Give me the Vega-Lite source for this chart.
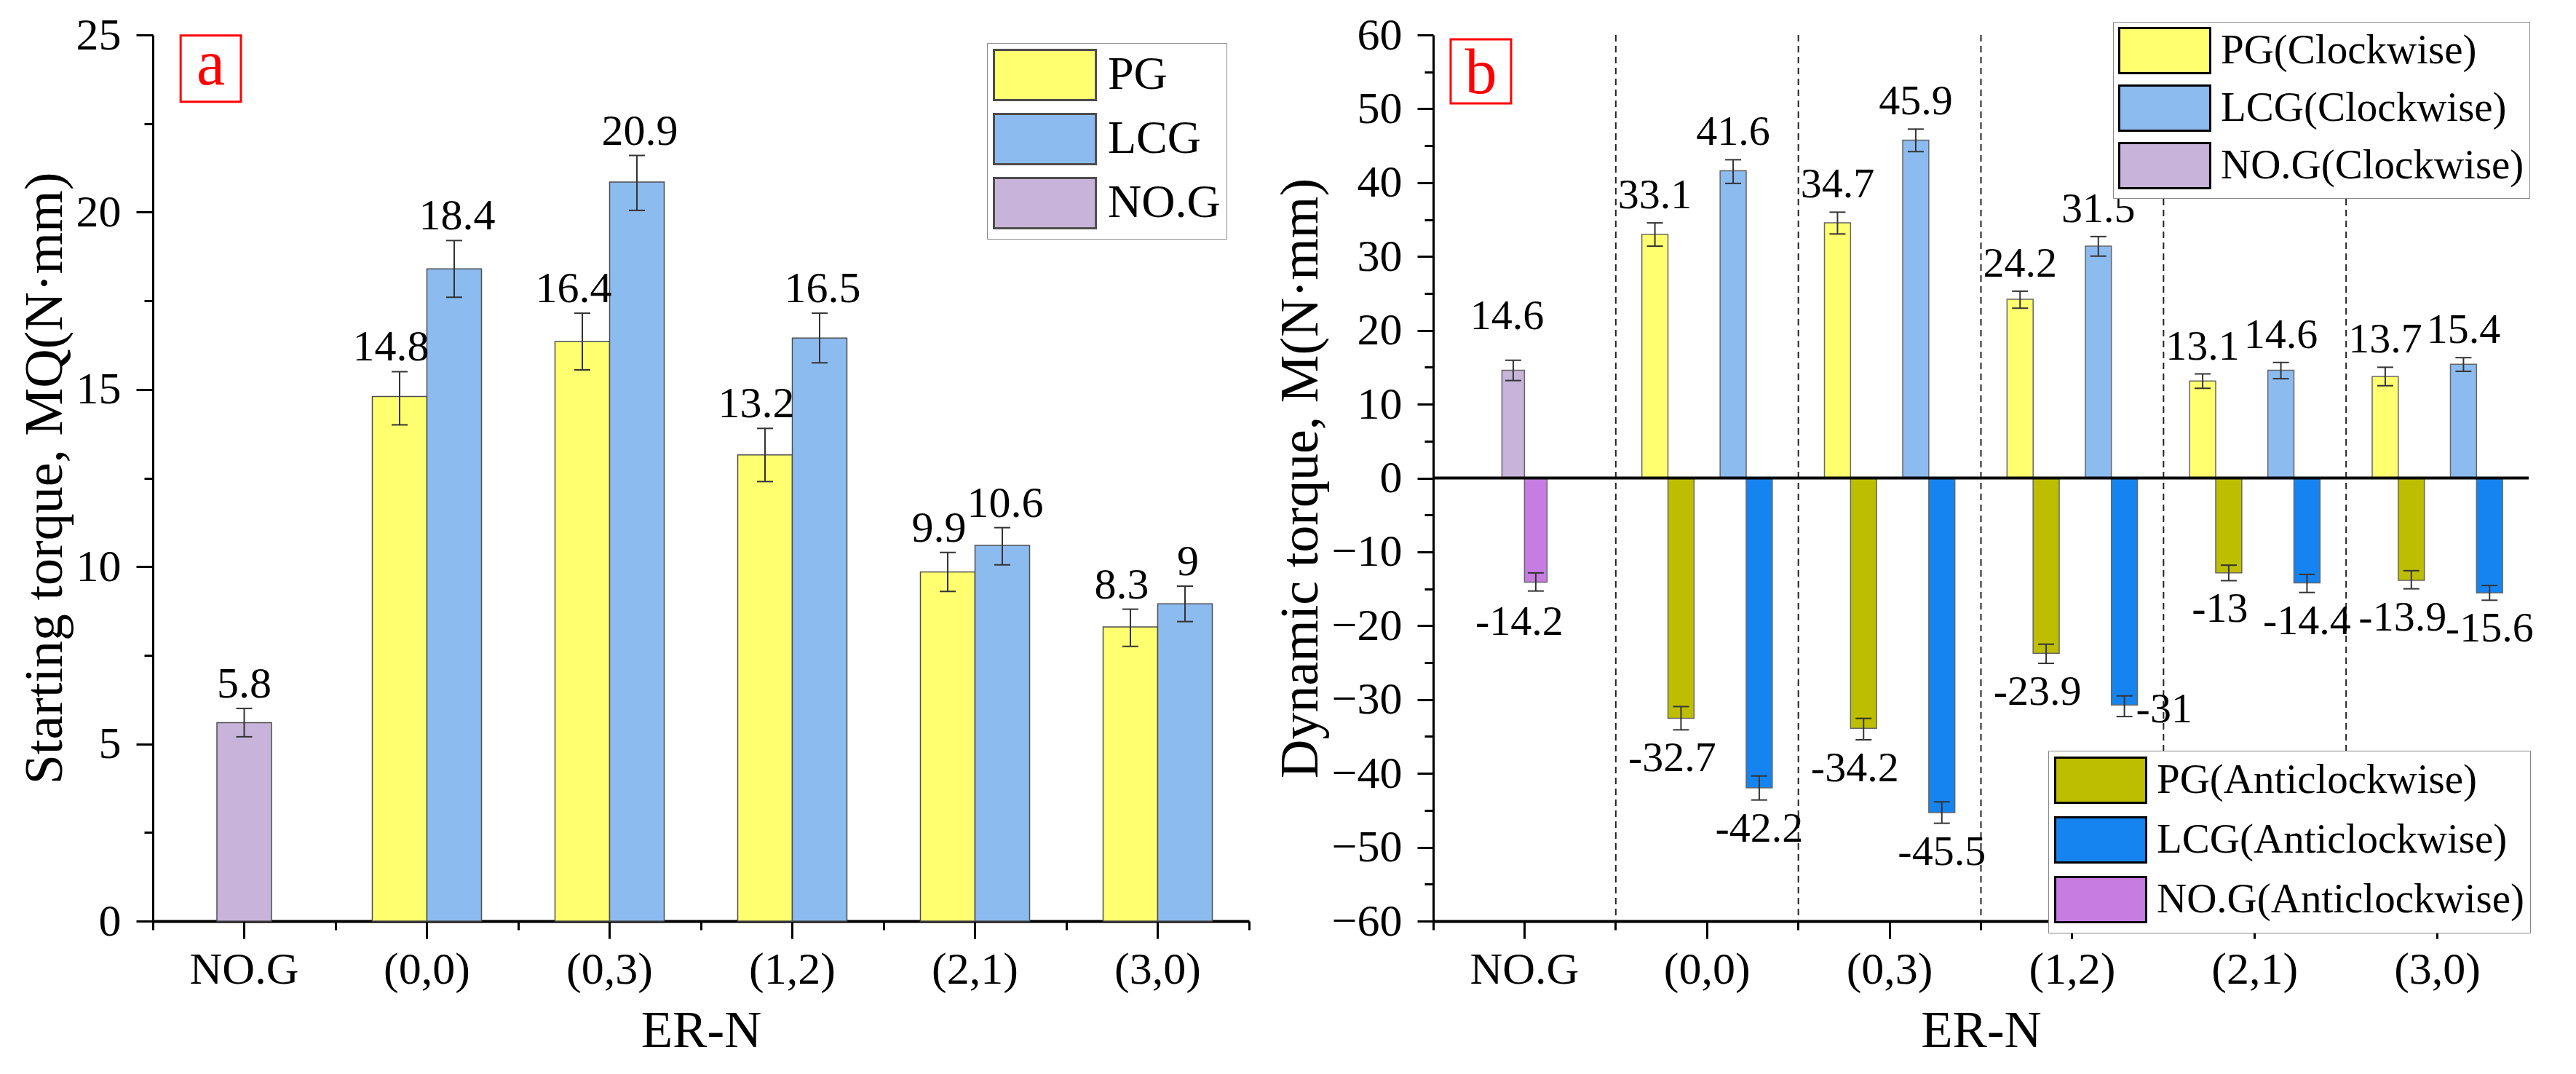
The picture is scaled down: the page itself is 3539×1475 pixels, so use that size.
{
  "$schema": "https://vega.github.io/schema/vega-lite/v6.json",
  "background": "white",
  "padding": {"left": 25, "top": 17, "right": 5, "bottom": 5},
  "spacing": 32,
  "resolve": {"scale": {"xOffset": "independent", "color": "independent"}},
  "config": {
    "font": "Liberation Serif",
    "view": {"stroke": null},
    "axis": {
      "domainColor": "black",
      "tickColor": "black",
      "labelColor": "black",
      "titleColor": "black",
      "labelFont": "Liberation Serif",
      "titleFont": "Liberation Serif",
      "titleFontWeight": "normal",
      "grid": false
    },
    "legend": {"labelFont": "Liberation Serif", "labelColor": "black"},
    "text": {"font": "Liberation Serif", "color": "black"}
  },
  "datasets": {
    "starting": [
      {"cat": "NO.G", "series": "NO.G", "value": 5.6, "lo": 5.2, "hi": 6.0, "label": "5.8"},
      {"cat": "(0,0)", "series": "PG", "value": 14.8, "lo": 14.0, "hi": 15.5, "label": "14.8"},
      {"cat": "(0,0)", "series": "LCG", "value": 18.4, "lo": 17.6, "hi": 19.2, "label": "18.4"},
      {"cat": "(0,3)", "series": "PG", "value": 16.35, "lo": 15.55, "hi": 17.15, "label": "16.4"},
      {"cat": "(0,3)", "series": "LCG", "value": 20.85, "lo": 20.05, "hi": 21.6, "label": "20.9"},
      {"cat": "(1,2)", "series": "PG", "value": 13.15, "lo": 12.4, "hi": 13.9, "label": "13.2"},
      {"cat": "(1,2)", "series": "LCG", "value": 16.45, "lo": 15.75, "hi": 17.15, "label": "16.5"},
      {"cat": "(2,1)", "series": "PG", "value": 9.85, "lo": 9.3, "hi": 10.4, "label": "9.9"},
      {"cat": "(2,1)", "series": "LCG", "value": 10.6, "lo": 10.05, "hi": 11.1, "label": "10.6"},
      {"cat": "(3,0)", "series": "PG", "value": 8.3, "lo": 7.75, "hi": 8.8, "label": "8.3"},
      {"cat": "(3,0)", "series": "LCG", "value": 8.95, "lo": 8.45, "hi": 9.45, "label": "9"}
    ],
    "dynamic": [
      {"cat": "NO.G", "series": "NO.G", "dir": "C", "key": "NO.G(Clockwise)", "value": 14.6, "lo": 13.2, "hi": 15.95, "label": "14.6"},
      {"cat": "NO.G", "series": "NO.G", "dir": "A", "key": "NO.G(Anticlockwise)", "value": -14.1, "lo": -15.3, "hi": -12.85, "label": "-14.2"},
      {"cat": "(0,0)", "series": "PG", "dir": "C", "key": "PG(Clockwise)", "value": 33.0, "lo": 31.4, "hi": 34.55, "label": "33.1"},
      {"cat": "(0,0)", "series": "LCG", "dir": "C", "key": "LCG(Clockwise)", "value": 41.6, "lo": 39.9, "hi": 43.1, "label": "41.6"},
      {"cat": "(0,3)", "series": "PG", "dir": "C", "key": "PG(Clockwise)", "value": 34.55, "lo": 33.05, "hi": 36.0, "label": "34.7"},
      {"cat": "(0,3)", "series": "LCG", "dir": "C", "key": "LCG(Clockwise)", "value": 45.75, "lo": 44.2, "hi": 47.25, "label": "45.9"},
      {"cat": "(1,2)", "series": "PG", "dir": "C", "key": "PG(Clockwise)", "value": 24.2, "lo": 23.0, "hi": 25.3, "label": "24.2"},
      {"cat": "(1,2)", "series": "LCG", "dir": "C", "key": "LCG(Clockwise)", "value": 31.4, "lo": 30.05, "hi": 32.7, "label": "31.5"},
      {"cat": "(2,1)", "series": "PG", "dir": "C", "key": "PG(Clockwise)", "value": 13.15, "lo": 12.15, "hi": 14.1, "label": "13.1"},
      {"cat": "(2,1)", "series": "LCG", "dir": "C", "key": "LCG(Clockwise)", "value": 14.6, "lo": 13.45, "hi": 15.65, "label": "14.6"},
      {"cat": "(3,0)", "series": "PG", "dir": "C", "key": "PG(Clockwise)", "value": 13.75, "lo": 12.5, "hi": 15.0, "label": "13.7"},
      {"cat": "(3,0)", "series": "LCG", "dir": "C", "key": "LCG(Clockwise)", "value": 15.4, "lo": 14.45, "hi": 16.3, "label": "15.4"},
      {"cat": "(0,0)", "series": "PG", "dir": "A", "key": "PG(Anticlockwise)", "value": -32.55, "lo": -34.1, "hi": -30.95, "label": "-32.7"},
      {"cat": "(0,0)", "series": "LCG", "dir": "A", "key": "LCG(Anticlockwise)", "value": -41.95, "lo": -43.6, "hi": -40.35, "label": "-42.2"},
      {"cat": "(0,3)", "series": "PG", "dir": "A", "key": "PG(Anticlockwise)", "value": -33.9, "lo": -35.45, "hi": -32.55, "label": "-34.2"},
      {"cat": "(0,3)", "series": "LCG", "dir": "A", "key": "LCG(Anticlockwise)", "value": -45.3, "lo": -46.75, "hi": -43.85, "label": "-45.5"},
      {"cat": "(1,2)", "series": "PG", "dir": "A", "key": "PG(Anticlockwise)", "value": -23.75, "lo": -25.1, "hi": -22.5, "label": "-23.9"},
      {"cat": "(1,2)", "series": "LCG", "dir": "A", "key": "LCG(Anticlockwise)", "value": -30.75, "lo": -32.3, "hi": -29.5, "label": "-31"},
      {"cat": "(2,1)", "series": "PG", "dir": "A", "key": "PG(Anticlockwise)", "value": -12.85, "lo": -13.9, "hi": -11.8, "label": "-13"},
      {"cat": "(2,1)", "series": "LCG", "dir": "A", "key": "LCG(Anticlockwise)", "value": -14.2, "lo": -15.5, "hi": -13.05, "label": "-14.4"},
      {"cat": "(3,0)", "series": "PG", "dir": "A", "key": "PG(Anticlockwise)", "value": -13.85, "lo": -15.0, "hi": -12.55, "label": "-13.9"},
      {"cat": "(3,0)", "series": "LCG", "dir": "A", "key": "LCG(Anticlockwise)", "value": -15.55, "lo": -16.55, "hi": -14.55, "label": "-15.6"}
    ],
    "tags": [{"panel": "a", "tag": "a"}, {"panel": "b", "tag": "b"}]
  },
  "hconcat": [
    {
      "width": 1506,
      "height": 1217,
      "data": {"name": "starting"},
      "resolve": {"axis": {"x": "independent", "y": "independent"}},
      "layer": [
        {
          "transform": [{"filter": "datum.series !== 'NO.G'"}],
          "mark": {"type": "bar", "stroke": "#4d4d4d", "strokeWidth": 1.5},
          "encoding": {
            "x": {
              "field": "cat", "type": "nominal",
              "sort": ["NO.G", "(0,0)", "(0,3)", "(1,2)", "(2,1)", "(3,0)"],
              "scale": {"paddingInner": 0, "paddingOuter": 0},
              "title": "ER-N",
              "axis": {"labelAngle": 0, "labelFontSize": 62, "labelPadding": 12, "tickSize": 24, "tickWidth": 3, "domainWidth": 4, "titleFontSize": 71, "titlePadding": 19}
            },
            "xOffset": {"field": "series", "scale": {"domain": ["PG", "LCG"], "paddingInner": 0, "paddingOuter": 0.6733}},
            "y": {
              "field": "value", "type": "quantitative",
              "scale": {"domain": [0, 25], "nice": false},
              "title": "Starting torque, MQ(N·mm)",
              "axis": {"values": [0, 5, 10, 15, 20, 25], "tickSize": 23, "tickWidth": 3, "domainWidth": 3, "labelFontSize": 62, "labelPadding": 21, "titleFontSize": 74, "titlePadding": 4}
            },
            "color": {
              "field": "series", "type": "nominal",
              "scale": {"domain": ["PG", "LCG", "NO.G"], "range": ["#FFFF70", "#8CBBF0", "#C8B4DA"]},
              "legend": {
                "title": null, "orient": "none", "legendX": 1146, "legendY": 11,
                "symbolType": "M-1,-1H3.06V1H-1Z", "symbolSize": 4761,
                "symbolStrokeColor": "black", "symbolStrokeWidth": 3, "symbolOpacity": 1,
                "labelFontSize": 64, "labelOffset": 86, "labelLimit": 800,
                "rowPadding": 6, "padding": 8, "strokeColor": "#888", "fillColor": "white"
              }
            }
          }
        },
        {
          "transform": [{"filter": "datum.series === 'NO.G'"}],
          "mark": {"type": "bar", "width": {"band": 0.2988}, "stroke": "#4d4d4d", "strokeWidth": 1.5},
          "encoding": {
            "x": {"field": "cat", "type": "nominal", "sort": ["NO.G", "(0,0)", "(0,3)", "(1,2)", "(2,1)", "(3,0)"], "axis": null},
            "y": {"field": "value", "type": "quantitative", "axis": null},
            "color": {"field": "series", "type": "nominal"}
          }
        },
        {
          "transform": [{"filter": "datum.series !== 'NO.G'"}],
          "mark": {"type": "rule", "color": "#333", "strokeWidth": 2},
          "encoding": {
            "x": {"field": "cat", "type": "nominal", "sort": ["NO.G", "(0,0)", "(0,3)", "(1,2)", "(2,1)", "(3,0)"], "axis": null},
            "xOffset": {"field": "series", "scale": {"domain": ["PG", "LCG"], "paddingInner": 0, "paddingOuter": 0.6733}},
            "y": {"field": "lo", "type": "quantitative", "axis": null},
            "y2": {"field": "hi"}
          }
        },
        {
          "transform": [{"filter": "datum.series === 'NO.G'"}],
          "mark": {"type": "rule", "color": "#333", "strokeWidth": 2},
          "encoding": {
            "x": {"field": "cat", "type": "nominal", "sort": ["NO.G", "(0,0)", "(0,3)", "(1,2)", "(2,1)", "(3,0)"], "axis": null},
            "y": {"field": "lo", "type": "quantitative", "axis": null},
            "y2": {"field": "hi"}
          }
        },
        {
          "transform": [{"filter": "datum.series !== 'NO.G'"}, {"fold": ["lo", "hi"], "as": ["end", "ev"]}],
          "mark": {"type": "tick", "color": "#333", "size": 22, "thickness": 2, "opacity": 1},
          "encoding": {
            "x": {
              "field": "cat", "type": "nominal", "sort": ["NO.G", "(0,0)", "(0,3)", "(1,2)", "(2,1)", "(3,0)"],
              "axis": {"orient": "bottom", "bandPosition": 1, "tickExtra": true, "tickSize": 12, "tickWidth": 3, "labels": false, "domain": false, "title": null}
            },
            "xOffset": {"field": "series", "scale": {"domain": ["PG", "LCG"], "paddingInner": 0, "paddingOuter": 0.6733}},
            "y": {
              "field": "ev", "type": "quantitative",
              "axis": {"orient": "left", "values": [2.5, 7.5, 12.5, 17.5, 22.5], "tickSize": 12, "tickWidth": 3, "labels": false, "domain": false, "title": null}
            }
          }
        },
        {
          "transform": [{"filter": "datum.series === 'NO.G'"}, {"fold": ["lo", "hi"], "as": ["end", "ev"]}],
          "mark": {"type": "tick", "color": "#333", "size": 22, "thickness": 2, "opacity": 1},
          "encoding": {
            "x": {"field": "cat", "type": "nominal", "sort": ["NO.G", "(0,0)", "(0,3)", "(1,2)", "(2,1)", "(3,0)"], "axis": null},
            "y": {"field": "ev", "type": "quantitative", "axis": null}
          }
        },
        {
          "transform": [{"filter": "datum.series === 'PG'"}],
          "mark": {"type": "text", "fontSize": 60, "dx": -12, "dy": -15, "baseline": "alphabetic", "align": "center"},
          "encoding": {
            "x": {"field": "cat", "type": "nominal", "sort": ["NO.G", "(0,0)", "(0,3)", "(1,2)", "(2,1)", "(3,0)"], "axis": null},
            "xOffset": {"field": "series", "scale": {"domain": ["PG", "LCG"], "paddingInner": 0, "paddingOuter": 0.6733}},
            "y": {"field": "hi", "type": "quantitative", "axis": null},
            "text": {"field": "label"}
          }
        },
        {
          "transform": [{"filter": "datum.series === 'LCG'"}],
          "mark": {"type": "text", "fontSize": 60, "dx": 4, "dy": -15, "baseline": "alphabetic", "align": "center"},
          "encoding": {
            "x": {"field": "cat", "type": "nominal", "sort": ["NO.G", "(0,0)", "(0,3)", "(1,2)", "(2,1)", "(3,0)"], "axis": null},
            "xOffset": {"field": "series", "scale": {"domain": ["PG", "LCG"], "paddingInner": 0, "paddingOuter": 0.6733}},
            "y": {"field": "hi", "type": "quantitative", "axis": null},
            "text": {"field": "label"}
          }
        },
        {
          "transform": [{"filter": "datum.series === 'NO.G'"}],
          "mark": {"type": "text", "fontSize": 60, "dy": -15, "baseline": "alphabetic", "align": "center"},
          "encoding": {
            "x": {"field": "cat", "type": "nominal", "sort": ["NO.G", "(0,0)", "(0,3)", "(1,2)", "(2,1)", "(3,0)"], "axis": null},
            "y": {"field": "hi", "type": "quantitative", "axis": null},
            "text": {"field": "label"}
          }
        },
        {
          "data": {"name": "tags"},
          "transform": [{"filter": "datum.panel === 'a'"}],
          "mark": {"type": "point", "shape": "M-0.91,-1H0.91V1H-0.91Z", "size": 8281, "filled": false, "stroke": "#FF0000", "strokeWidth": 3, "opacity": 1},
          "encoding": {
            "x": {"datum": "NO.G", "bandPosition": 0.317, "axis": null},
            "y": {"datum": 24.05, "axis": null}
          }
        },
        {
          "data": {"name": "tags"},
          "transform": [{"filter": "datum.panel === 'a'"}],
          "mark": {"type": "text", "fontSize": 88, "color": "#FF0000", "align": "center", "baseline": "alphabetic", "dy": 22},
          "encoding": {
            "x": {"datum": "NO.G", "bandPosition": 0.317, "axis": null},
            "y": {"datum": 24.05, "axis": null},
            "text": {"field": "tag"}
          }
        }
      ]
    },
    {
      "width": 1505,
      "height": 1217,
      "data": {"name": "dynamic"},
      "resolve": {"axis": {"x": "independent", "y": "independent"}, "scale": {"color": "independent"}},
      "layer": [
        {
          "transform": [{"filter": "datum.series === 'PG' && datum.dir === 'C'"}],
          "mark": {"type": "rule", "color": "#222", "strokeWidth": 2, "strokeDash": [9, 6]},
          "encoding": {
            "x": {"field": "cat", "type": "nominal", "bandPosition": 0, "sort": ["NO.G", "(0,0)", "(0,3)", "(1,2)", "(2,1)", "(3,0)"], "axis": null}
          }
        },
        {
          "transform": [{"filter": "datum.dir === 'C' && datum.series !== 'NO.G'"}],
          "mark": {"type": "bar", "stroke": "#666", "strokeWidth": 1.5},
          "encoding": {
            "x": {
              "field": "cat", "type": "nominal",
              "sort": ["NO.G", "(0,0)", "(0,3)", "(1,2)", "(2,1)", "(3,0)"],
              "scale": {"paddingInner": 0, "paddingOuter": 0},
              "title": "ER-N",
              "axis": {"labelAngle": 0, "labelFontSize": 62, "labelPadding": 12, "tickSize": 24, "tickWidth": 3, "domainWidth": 4, "titleFontSize": 71, "titlePadding": 19}
            },
            "xOffset": {"field": "key", "scale": {"domain": ["PG(Clockwise)", "PG(Anticlockwise)", "gap", "LCG(Clockwise)", "LCG(Anticlockwise)"], "paddingInner": 0, "paddingOuter": 1.5456}},
            "y": {
              "field": "value", "type": "quantitative",
              "scale": {"domain": [-60, 60], "nice": false},
              "title": "Dynamic torque, M(N·mm)",
              "axis": {"values": [-60, -50, -40, -30, -20, -10, 0, 10, 20, 30, 40, 50, 60], "tickSize": 22, "tickWidth": 3, "domainWidth": 3, "labelFontSize": 62, "labelPadding": 21, "titleFontSize": 74, "titlePadding": 4}
            },
            "color": {
              "field": "key", "type": "nominal",
              "scale": {"domain": ["PG(Clockwise)", "LCG(Clockwise)", "NO.G(Clockwise)"], "range": ["#FFFF70", "#8CBBF0", "#C8B4DA"]},
              "legend": {
                "title": null, "orient": "none", "legendX": 934, "legendY": -18,
                "symbolType": "M-1,-1H3.03V1H-1Z", "symbolSize": 3844,
                "symbolStrokeColor": "black", "symbolStrokeWidth": 3, "symbolOpacity": 1,
                "labelFontSize": 57, "labelOffset": 76, "labelLimit": 800,
                "rowPadding": 4, "padding": 7, "strokeColor": "#888", "fillColor": "white"
              }
            }
          }
        },
        {
          "transform": [{"filter": "datum.dir === 'C' && datum.series === 'NO.G'"}],
          "mark": {"type": "bar", "width": {"band": 0.1236}, "xOffset": -15.5, "stroke": "#666", "strokeWidth": 1.5},
          "encoding": {
            "x": {"field": "cat", "type": "nominal", "sort": ["NO.G", "(0,0)", "(0,3)", "(1,2)", "(2,1)", "(3,0)"], "axis": null},
            "y": {"field": "value", "type": "quantitative", "axis": null},
            "color": {"field": "key", "type": "nominal", "scale": {"domain": ["NO.G(Clockwise)"], "range": ["#C8B4DA"]}, "legend": null}
          }
        },
        {
          "transform": [{"filter": "datum.dir === 'A' && datum.series !== 'NO.G'"}],
          "mark": {"type": "bar", "stroke": "#666", "strokeWidth": 1.5},
          "encoding": {
            "x": {"field": "cat", "type": "nominal", "sort": ["NO.G", "(0,0)", "(0,3)", "(1,2)", "(2,1)", "(3,0)"], "axis": null},
            "xOffset": {"field": "key", "scale": {"domain": ["PG(Clockwise)", "PG(Anticlockwise)", "gap", "LCG(Clockwise)", "LCG(Anticlockwise)"], "paddingInner": 0, "paddingOuter": 1.5456}},
            "y": {"field": "value", "type": "quantitative", "axis": null},
            "color": {
              "field": "key", "type": "nominal",
              "scale": {"domain": ["PG(Anticlockwise)", "LCG(Anticlockwise)", "NO.G(Anticlockwise)"], "range": ["#BEBE00", "#1684F0", "#C77CE2"]},
              "legend": {
                "title": null, "orient": "none", "legendX": 845, "legendY": 983,
                "symbolType": "M-1,-1H3.03V1H-1Z", "symbolSize": 3844,
                "symbolStrokeColor": "black", "symbolStrokeWidth": 3, "symbolOpacity": 1,
                "labelFontSize": 57, "labelOffset": 76, "labelLimit": 800,
                "rowPadding": 7, "padding": 8, "strokeColor": "#888", "fillColor": "white"
              }
            }
          }
        },
        {
          "transform": [{"filter": "datum.dir === 'A' && datum.series === 'NO.G'"}],
          "mark": {"type": "bar", "width": {"band": 0.1236}, "xOffset": 15.5, "stroke": "#666", "strokeWidth": 1.5},
          "encoding": {
            "x": {"field": "cat", "type": "nominal", "sort": ["NO.G", "(0,0)", "(0,3)", "(1,2)", "(2,1)", "(3,0)"], "axis": null},
            "y": {"field": "value", "type": "quantitative", "axis": null},
            "color": {"field": "key", "type": "nominal", "scale": {"domain": ["NO.G(Anticlockwise)"], "range": ["#C77CE2"]}, "legend": null}
          }
        },
        {
          "transform": [{"filter": "datum.series === 'NO.G' && datum.dir === 'C'"}],
          "mark": {"type": "rule", "color": "black", "strokeWidth": 4},
          "encoding": {"y": {"datum": 0, "axis": null}}
        },
        {
          "transform": [{"filter": "datum.series !== 'NO.G'"}],
          "mark": {"type": "rule", "color": "#333", "strokeWidth": 2},
          "encoding": {
            "x": {"field": "cat", "type": "nominal", "sort": ["NO.G", "(0,0)", "(0,3)", "(1,2)", "(2,1)", "(3,0)"], "axis": null},
            "xOffset": {"field": "key", "scale": {"domain": ["PG(Clockwise)", "PG(Anticlockwise)", "gap", "LCG(Clockwise)", "LCG(Anticlockwise)"], "paddingInner": 0, "paddingOuter": 1.5456}},
            "y": {"field": "lo", "type": "quantitative", "axis": null},
            "y2": {"field": "hi"}
          }
        },
        {
          "transform": [{"filter": "datum.series === 'NO.G' && datum.dir === 'C'"}],
          "mark": {"type": "rule", "color": "#333", "strokeWidth": 2, "xOffset": -15.5},
          "encoding": {
            "x": {"field": "cat", "type": "nominal", "sort": ["NO.G", "(0,0)", "(0,3)", "(1,2)", "(2,1)", "(3,0)"], "axis": null},
            "y": {"field": "lo", "type": "quantitative", "axis": null},
            "y2": {"field": "hi"}
          }
        },
        {
          "transform": [{"filter": "datum.series === 'NO.G' && datum.dir === 'A'"}],
          "mark": {"type": "rule", "color": "#333", "strokeWidth": 2, "xOffset": 15.5},
          "encoding": {
            "x": {"field": "cat", "type": "nominal", "sort": ["NO.G", "(0,0)", "(0,3)", "(1,2)", "(2,1)", "(3,0)"], "axis": null},
            "y": {"field": "lo", "type": "quantitative", "axis": null},
            "y2": {"field": "hi"}
          }
        },
        {
          "transform": [{"filter": "datum.series !== 'NO.G'"}, {"fold": ["lo", "hi"], "as": ["end", "ev"]}],
          "mark": {"type": "tick", "color": "#333", "size": 22, "thickness": 2, "opacity": 1},
          "encoding": {
            "x": {
              "field": "cat", "type": "nominal", "sort": ["NO.G", "(0,0)", "(0,3)", "(1,2)", "(2,1)", "(3,0)"],
              "axis": {"orient": "bottom", "bandPosition": 1, "tickExtra": true, "tickSize": 12, "tickWidth": 3, "labels": false, "domain": false, "title": null}
            },
            "xOffset": {"field": "key", "scale": {"domain": ["PG(Clockwise)", "PG(Anticlockwise)", "gap", "LCG(Clockwise)", "LCG(Anticlockwise)"], "paddingInner": 0, "paddingOuter": 1.5456}},
            "y": {
              "field": "ev", "type": "quantitative",
              "axis": {"orient": "left", "values": [-55, -45, -35, -25, -15, -5, 5, 15, 25, 35, 45, 55], "tickSize": 12, "tickWidth": 3, "labels": false, "domain": false, "title": null}
            }
          }
        },
        {
          "transform": [{"filter": "datum.series === 'NO.G' && datum.dir === 'C'"}, {"fold": ["lo", "hi"], "as": ["end", "ev"]}],
          "mark": {"type": "tick", "color": "#333", "size": 22, "thickness": 2, "opacity": 1, "xOffset": -15.5},
          "encoding": {
            "x": {"field": "cat", "type": "nominal", "sort": ["NO.G", "(0,0)", "(0,3)", "(1,2)", "(2,1)", "(3,0)"], "axis": null},
            "y": {"field": "ev", "type": "quantitative", "axis": null}
          }
        },
        {
          "transform": [{"filter": "datum.series === 'NO.G' && datum.dir === 'A'"}, {"fold": ["lo", "hi"], "as": ["end", "ev"]}],
          "mark": {"type": "tick", "color": "#333", "size": 22, "thickness": 2, "opacity": 1, "xOffset": 15.5},
          "encoding": {
            "x": {"field": "cat", "type": "nominal", "sort": ["NO.G", "(0,0)", "(0,3)", "(1,2)", "(2,1)", "(3,0)"], "axis": null},
            "y": {"field": "ev", "type": "quantitative", "axis": null}
          }
        },
        {
          "transform": [{"filter": "datum.dir === 'C' && datum.series !== 'NO.G'"}],
          "mark": {"type": "text", "fontSize": 58, "dy": -20, "baseline": "alphabetic", "align": "center"},
          "encoding": {
            "x": {"field": "cat", "type": "nominal", "sort": ["NO.G", "(0,0)", "(0,3)", "(1,2)", "(2,1)", "(3,0)"], "axis": null},
            "xOffset": {"field": "key", "scale": {"domain": ["PG(Clockwise)", "PG(Anticlockwise)", "gap", "LCG(Clockwise)", "LCG(Anticlockwise)"], "paddingInner": 0, "paddingOuter": 1.5456}},
            "y": {"field": "hi", "type": "quantitative", "axis": null},
            "text": {"field": "label"}
          }
        },
        {
          "transform": [{"filter": "datum.dir === 'A' && datum.series === 'PG'"}],
          "mark": {"type": "text", "fontSize": 58, "dx": -12, "dy": 57, "baseline": "alphabetic", "align": "center"},
          "encoding": {
            "x": {"field": "cat", "type": "nominal", "sort": ["NO.G", "(0,0)", "(0,3)", "(1,2)", "(2,1)", "(3,0)"], "axis": null},
            "xOffset": {"field": "key", "scale": {"domain": ["PG(Clockwise)", "PG(Anticlockwise)", "gap", "LCG(Clockwise)", "LCG(Anticlockwise)"], "paddingInner": 0, "paddingOuter": 1.5456}},
            "y": {"field": "lo", "type": "quantitative", "axis": null},
            "text": {"field": "label"}
          }
        },
        {
          "transform": [{"filter": "datum.dir === 'A' && datum.series === 'LCG' && datum.label !== '-31'"}],
          "mark": {"type": "text", "fontSize": 58, "dy": 57, "baseline": "alphabetic", "align": "center"},
          "encoding": {
            "x": {"field": "cat", "type": "nominal", "sort": ["NO.G", "(0,0)", "(0,3)", "(1,2)", "(2,1)", "(3,0)"], "axis": null},
            "xOffset": {"field": "key", "scale": {"domain": ["PG(Clockwise)", "PG(Anticlockwise)", "gap", "LCG(Clockwise)", "LCG(Anticlockwise)"], "paddingInner": 0, "paddingOuter": 1.5456}},
            "y": {"field": "lo", "type": "quantitative", "axis": null},
            "text": {"field": "label"}
          }
        },
        {
          "transform": [{"filter": "datum.label === '-31'"}],
          "mark": {"type": "text", "fontSize": 58, "dx": 16, "dy": 8, "baseline": "alphabetic", "align": "left"},
          "encoding": {
            "x": {"field": "cat", "type": "nominal", "sort": ["NO.G", "(0,0)", "(0,3)", "(1,2)", "(2,1)", "(3,0)"], "axis": null},
            "xOffset": {"field": "key", "scale": {"domain": ["PG(Clockwise)", "PG(Anticlockwise)", "gap", "LCG(Clockwise)", "LCG(Anticlockwise)"], "paddingInner": 0, "paddingOuter": 1.5456}},
            "y": {"field": "lo", "type": "quantitative", "axis": null},
            "text": {"field": "label"}
          }
        },
        {
          "transform": [{"filter": "datum.dir === 'C' && datum.series === 'NO.G'"}],
          "mark": {"type": "text", "fontSize": 58, "dx": -24, "dy": -43, "baseline": "alphabetic", "align": "center"},
          "encoding": {
            "x": {"field": "cat", "type": "nominal", "sort": ["NO.G", "(0,0)", "(0,3)", "(1,2)", "(2,1)", "(3,0)"], "axis": null},
            "y": {"field": "hi", "type": "quantitative", "axis": null},
            "text": {"field": "label"}
          }
        },
        {
          "transform": [{"filter": "datum.dir === 'A' && datum.series === 'NO.G'"}],
          "mark": {"type": "text", "fontSize": 58, "dx": -7, "dy": 60, "baseline": "alphabetic", "align": "center"},
          "encoding": {
            "x": {"field": "cat", "type": "nominal", "sort": ["NO.G", "(0,0)", "(0,3)", "(1,2)", "(2,1)", "(3,0)"], "axis": null},
            "y": {"field": "lo", "type": "quantitative", "axis": null},
            "text": {"field": "label"}
          }
        },
        {
          "data": {"name": "tags"},
          "transform": [{"filter": "datum.panel === 'b'"}],
          "mark": {"type": "point", "shape": "M-0.943,-1H0.943V1H-0.943Z", "size": 7744, "filled": false, "stroke": "#FF0000", "strokeWidth": 3, "opacity": 1},
          "encoding": {
            "x": {"datum": "NO.G", "bandPosition": 0.261, "axis": null},
            "y": {"datum": 55.07, "axis": null}
          }
        },
        {
          "data": {"name": "tags"},
          "transform": [{"filter": "datum.panel === 'b'"}],
          "mark": {"type": "text", "fontSize": 88, "color": "#FF0000", "align": "center", "baseline": "alphabetic", "dy": 30},
          "encoding": {
            "x": {"datum": "NO.G", "bandPosition": 0.261, "axis": null},
            "y": {"datum": 55.07, "axis": null},
            "text": {"field": "tag"}
          }
        }
      ]
    }
  ]
}
